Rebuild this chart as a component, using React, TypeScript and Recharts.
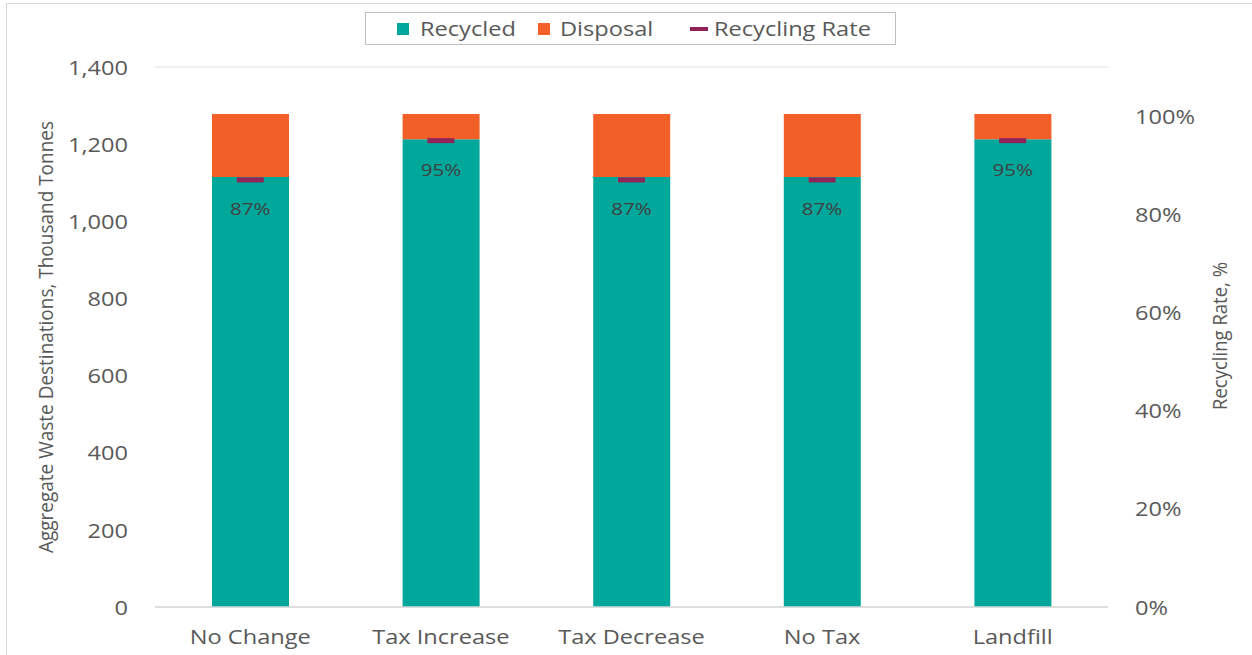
import { ComposedChart, Bar, Line, XAxis, YAxis, CartesianGrid, LabelList } from 'recharts';

const categories = ['No Change', 'Tax Increase', 'Tax Decrease', 'No Tax', 'Landfill'];
const recycled = [1115, 1213, 1115, 1115, 1213];
const disposal = [163, 65, 163, 163, 65];
const recyclingRate = [0.87, 0.95, 0.87, 0.87, 0.95];
const leftTicks = [0, 200, 400, 600, 800, 1000, 1200, 1400];
const rightTicks = [0, 0.2, 0.4, 0.6, 0.8, 1.0];

const TEAL = '#00A79B';
const ORANGE = '#F26027';
const PURPLE = '#902359';
const TEXT = '#595959';
const FONT = '"Open Sans", sans-serif';
const STRETCH = 1.21;

const data = categories.map((name, i) => ({
  name,
  recycled: recycled[i],
  disposal: disposal[i],
  rate: recyclingRate[i],
}));

const pct = (v: number) => `${Math.round(v * 100)}%`;

// the source image is stretched sideways, so text gets a horizontal scale
function WideText({ x, y, anchor, baseline, size, fill, children }: any) {
  return (
    <g transform={`translate(${x},${y}) scale(${STRETCH},1)`}>
      <text x={0} y={0} textAnchor={anchor} dominantBaseline={baseline} fontFamily={FONT} fontSize={size} fill={fill}>
        {children}
      </text>
    </g>
  );
}

function XTick(props: any) {
  const { x, y, payload } = props;
  return <WideText x={x} y={y + 10} anchor="middle" baseline="central" size={19.5} fill={TEXT}>{payload.value}</WideText>;
}

function LeftTick(props: any) {
  const { x, y, payload } = props;
  return (
    <WideText x={x} y={y} anchor="end" baseline="central" size={19.5} fill={TEXT}>
      {Number(payload.value).toLocaleString('en-US')}
    </WideText>
  );
}

function RightTick(props: any) {
  const { x, y, payload } = props;
  return <WideText x={x} y={y} anchor="start" baseline="central" size={19.5} fill={TEXT}>{pct(payload.value)}</WideText>;
}

function RateMark(props: any) {
  const { cx, cy } = props;
  if (cx == null || cy == null) return null;
  return <rect x={cx - 13.5} y={cy - 2.5} width={27} height={5} fill={PURPLE} />;
}

function RateLabel(props: any) {
  const { x, y, value } = props;
  if (x == null || y == null) return null;
  return <WideText x={x} y={y + 29} anchor="middle" baseline="central" size={17} fill="#404040">{pct(Number(value))}</WideText>;
}

function LegendBox() {
  const txt = (left: number, s: string) => (
    <span style={{ position: 'absolute', left, top: 3, fontFamily: FONT, fontSize: 19.5, color: TEXT, whiteSpace: 'nowrap',
      transform: `scaleX(${STRETCH})`, transformOrigin: 'left center', lineHeight: '26px' }}>{s}</span>
  );
  return (
    <div style={{ position: 'absolute', left: 365, top: 12, width: 531, height: 33, boxSizing: 'border-box',
      border: '1px solid #bfbfbf', background: '#fff' }}>
      <span style={{ position: 'absolute', left: 31, top: 10, width: 12, height: 12, background: TEAL }} />
      {txt(54, 'Recycled')}
      <span style={{ position: 'absolute', left: 172, top: 10, width: 12, height: 12, background: ORANGE }} />
      {txt(194, 'Disposal')}
      <span style={{ position: 'absolute', left: 324, top: 14, width: 18, height: 4, background: PURPLE }} />
      {txt(348, 'Recycling Rate')}
    </div>
  );
}

function SideLabel({ x, y, text, len }: { x: number; y: number; text: string; len: number }) {
  return (
    <text x={x} y={y} transform={`rotate(-90 ${x} ${y})`} textAnchor="middle" dominantBaseline="central"
      fontFamily={FONT} fontSize={20} fill={TEXT} textLength={len} lengthAdjust="spacingAndGlyphs">
      {text}
    </text>
  );
}

export default function App() {
  return (
    <div style={{ position: 'absolute', left: 0, top: 0, width: 1252, height: 655, background: '#fff', overflow: 'hidden' }}>
      <div style={{ position: 'absolute', left: 6, top: 3, width: 1300, height: 700, borderLeft: '1px solid #d9d9d9', borderTop: '1px solid #d9d9d9' }} />
      <ComposedChart width={1252} height={655} data={data} margin={{ top: 67, right: 0, bottom: 18, left: 0 }}
        style={{ position: 'absolute', left: 0, top: 0 }}>
        <CartesianGrid vertical={false} stroke="#ebebeb" strokeWidth={1.5} />
        <XAxis dataKey="name" height={30} axisLine={{ stroke: '#d9d9d9', strokeWidth: 1.5 }} tickLine={false}
          tickSize={0} tickMargin={19} tick={<XTick />} interval={0} />
        <YAxis yAxisId="left" width={155} domain={[0, 1400]} ticks={leftTicks} axisLine={false} tickLine={false}
          tickSize={0} tickMargin={27} tick={<LeftTick />} />
        <YAxis yAxisId="right" orientation="right" width={144} domain={[0, 1.1]} ticks={rightTicks} axisLine={false}
          tickLine={false} tickSize={0} tickMargin={27} tick={<RightTick />} />
        <Bar yAxisId="left" dataKey="recycled" name="Recycled" stackId="a" fill={TEAL} barSize={77} isAnimationActive={false} />
        <Bar yAxisId="left" dataKey="disposal" name="Disposal" stackId="a" fill={ORANGE} barSize={77} isAnimationActive={false} />
        <Line yAxisId="right" dataKey="rate" name="Recycling Rate" stroke="none" strokeWidth={0} dot={<RateMark />}
          activeDot={false} isAnimationActive={false}>
          <LabelList dataKey="rate" content={<RateLabel />} />
        </Line>
        <SideLabel x={45} y={337} text="Aggregate Waste Destinations, Thousand Tonnes" len={432} />
        <SideLabel x={1219} y={336} text="Recycling Rate, %" len={148} />
      </ComposedChart>
      <LegendBox />
    </div>
  );
}
